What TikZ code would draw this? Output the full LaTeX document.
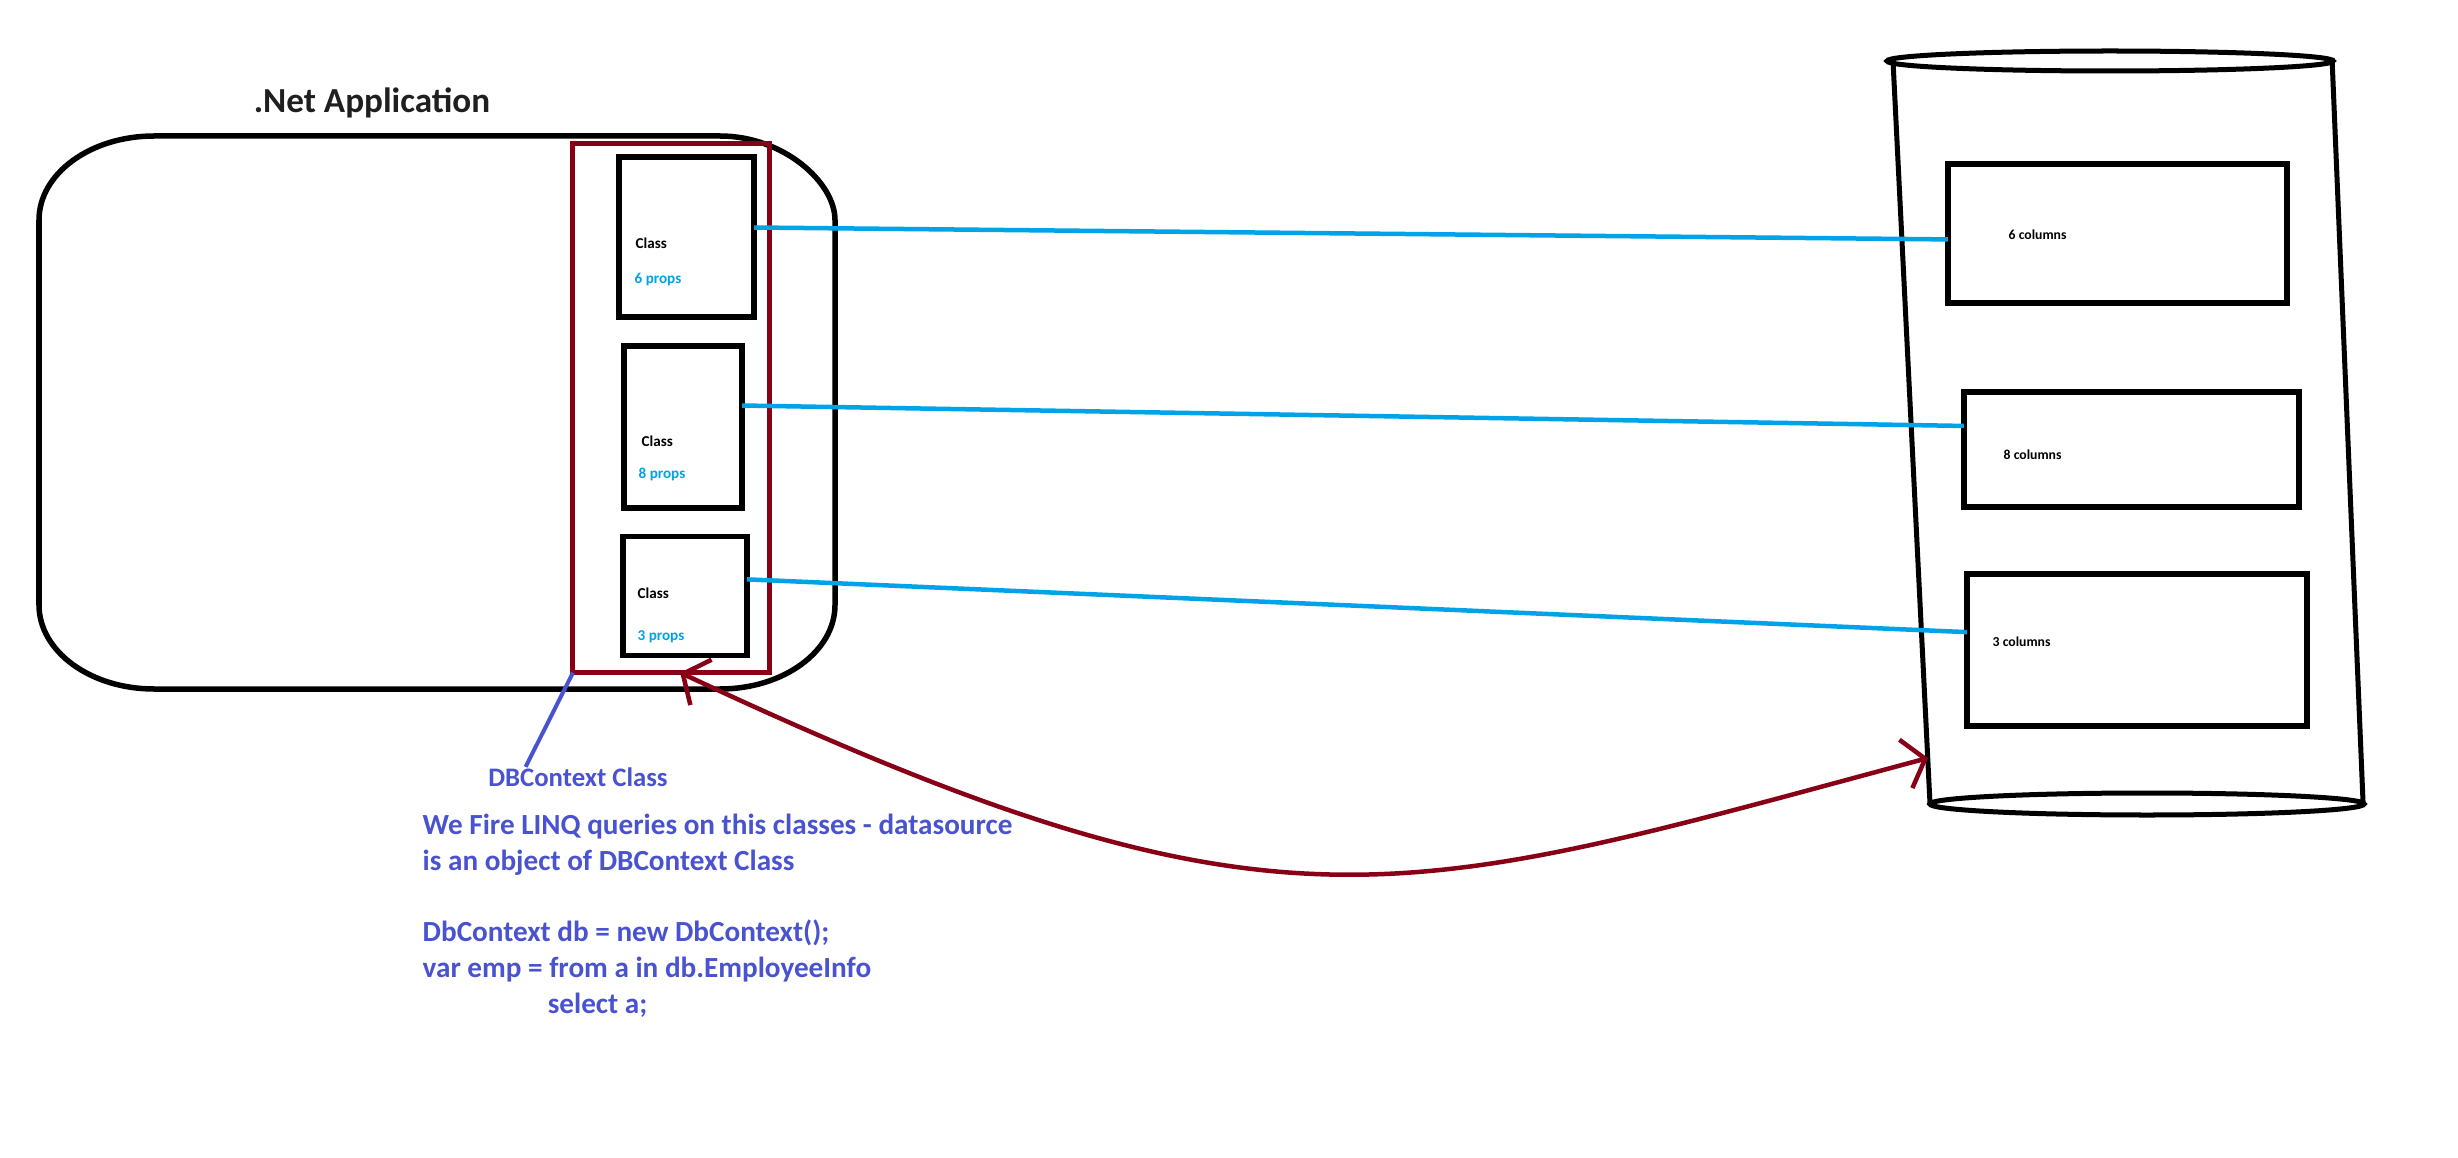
\documentclass[tikz,border=0pt]{standalone}
\usepackage{fontspec}
\setmainfont{Carlito}
\usetikzlibrary{arrows.meta}
\definecolor{dbred}{HTML}{880015}
\definecolor{linkblue}{HTML}{00A2E8}
\definecolor{noteblue}{HTML}{4A53CF}

\begin{document}
\begin{tikzpicture}[x=0.01cm, y=-0.01cm,
		box/.style={draw, line width=0.055cm, inner sep=0, outer sep=0},
		tiny/.style={font=\fontsize{4.3}{5}\selectfont\bfseries, inner sep=0, anchor=west},
		link/.style={draw=linkblue, line width=0.045cm},
		note/.style={text=noteblue, font=\fontsize{8.3}{10.2}\selectfont\bfseries, inner sep=0}]
		\useasboundingbox (0,0) rectangle (2458,1158);
		
		% the application side
		\node[font=\fontsize{10}{12}\selectfont\bfseries, text=black!88] (title) at (372,103) {.Net Application};
		\draw[line width=0.055cm] (39,220) .. controls (39,173.6) and (90.5,136) .. (154,136) -- (720,136)
		.. controls (783.5,136) and (835,182.4) .. (835,220) -- (835,605)
		.. controls (835,651.4) and (783.5,689) .. (720,689) -- (154,689)
		.. controls (90.5,689) and (39,651.4) .. (39,605) -- cycle;
		\node[box, draw=dbred, line width=0.05cm, minimum width=1.96cm, minimum height=5.29cm] (dbctx) at (671,408) {};
		\node[box, minimum width=1.35cm, minimum height=1.6cm] (c1) at (686.5,237) {};
		\node[box, minimum width=1.18cm, minimum height=1.62cm] (c2) at (683,427) {};
		\node[box, minimum width=1.24cm, minimum height=1.19cm] (c3) at (685,596) {};
		\node[tiny] (cls1) at (635,243) {Class};
		\node[tiny, text=linkblue] (prp1) at (634,280) {6 props};
		\node[tiny] (cls2) at (641,441) {Class};
		\node[tiny, text=linkblue] (prp2) at (638,474) {8 props};
		\node[tiny] (cls3) at (637,593) {Class};
		\node[tiny, text=linkblue] (prp3) at (637,637) {3 props};
		
		% the database
		\draw[line width=0.05cm] (2110,61) ellipse [x radius=223, y radius=10];
		\draw[line width=0.05cm] (1893,61) -- (1930,804);
		\draw[line width=0.05cm] (2332,58) -- (2363,802);
		\draw[line width=0.05cm] (2147,804) ellipse [x radius=217, y radius=11];
		\node[box, minimum width=3.39cm, minimum height=1.39cm] (t1) at (2117.5,233.5) {};
		\node[box, minimum width=3.35cm, minimum height=1.15cm] (t2) at (2131.5,449.5) {};
		\node[box, minimum width=3.40cm, minimum height=1.52cm] (t3) at (2137,650) {};
		\node[tiny, font=\fontsize{3.9}{5}\selectfont\bfseries] (col1) at (2008,235) {6 columns};
		\node[tiny, font=\fontsize{3.9}{5}\selectfont\bfseries] (col2) at (2003,455) {8 columns};
		\node[tiny, font=\fontsize{3.9}{5}\selectfont\bfseries] (col3) at (1992,642) {3 columns};
		\coordinate (dbin) at (1928,758);
		
		\draw[link] (c1.8) -- (t1.182);
		\draw[link] (c2.20) -- (t2.172);
		\draw[link] (c3.15) -- (t3.174);
		
		\draw[dbred, line width=0.045cm, line cap=round, {Straight Barb[length=0.2cm,width=0.5cm]}-{Straight Barb[length=0.2cm,width=0.5cm]}]
		(dbctx.272) .. controls (1281,954) and (1398,900) .. (dbin);
		
		% notes
		\node[note, font=\fontsize{7.6}{9}\selectfont\bfseries] (dbctxlbl) at (578,777) {DBContext Class};
		\draw[noteblue, line width=0.04cm] (dbctxlbl.169) -- (dbctx.south west);
		\node[note, align=left, anchor=north west] (query) at (422,813) {We Fire LINQ queries on this classes - datasource\\
			is an object of DBContext Class\\[10.2pt]
			DbContext db = new DbContext();\\
			var emp = from a in db.EmployeeInfo\\
			\hspace*{1.25cm}select a;};
\end{tikzpicture}
\end{document}
